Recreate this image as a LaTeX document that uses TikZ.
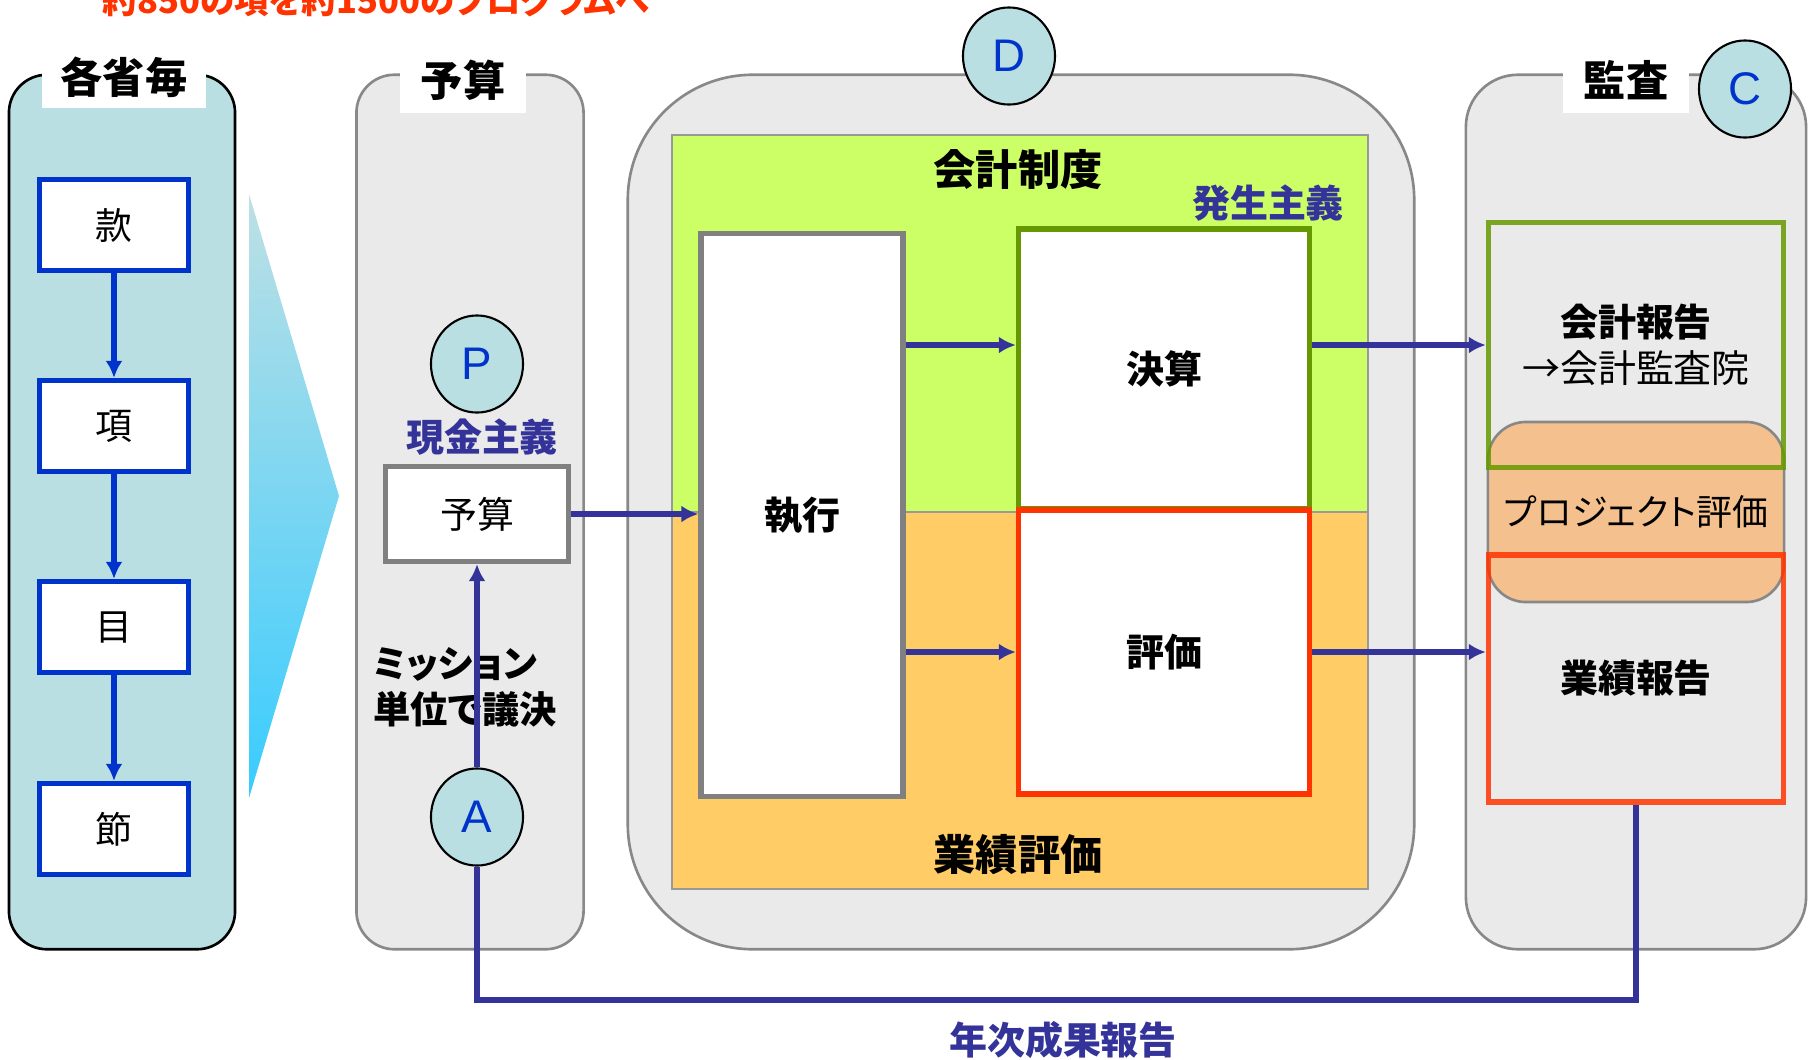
\documentclass[tikz,border=0pt]{standalone}
\usepackage{fontspec}
\setmainfont{Noto Sans CJK JP}
\newfontfamily\kanafont[RawFeature=+palt]{Noto Sans CJK JP}
\newfontfamily\lettfont{Liberation Sans}
\usepackage{xcolor}
\definecolor{panelblue}{RGB}{185,223,226}
\definecolor{panelgray}{RGB}{234,234,234}
\definecolor{edgegray}{RGB}{136,136,136}
\definecolor{boxgray}{RGB}{128,128,128}
\definecolor{itemblue}{RGB}{0,51,204}
\definecolor{flowindigo}{RGB}{51,51,153}
\definecolor{accrualgreen}{RGB}{204,255,102}
\definecolor{perforange}{RGB}{255,204,102}
\definecolor{greenedge}{RGB}{102,153,0}
\definecolor{rededge}{RGB}{255,51,0}
\definecolor{peach}{RGB}{244,193,142}
\definecolor{fadetop}{RGB}{190,224,228}
\definecolor{fadebottom}{RGB}{56,204,255}
\usepackage{tikz}
\usetikzlibrary{arrows.meta,shapes.geometric,positioning}
\tikzset{
	>={Latex[length=4.8pt,width=4.8pt]},
	panel/.style = {
			draw            = edgegray,
			fill            = panelgray,
			line width      = 0.75pt,
			rounded corners = 0.38cm,
			minimum height  = 8.74cm,
		},
	headbox/.style = {
			fill           = white,
			inner sep      = 0pt,
			minimum height = 0.66cm,
			font           = \bfseries\fontsize{12}{14}\selectfont,
		},
	itembox/.style = {
			draw           = itemblue,
			fill           = white,
			line width     = 1.5pt,
			minimum width  = 1.49cm,
			minimum height = 0.91cm,
			font           = \fontsize{10.5}{12}\selectfont,
		},
	letterball/.style = {
			ellipse,
			draw           = black,
			fill           = panelblue,
			line width     = 0.6pt,
			inner sep      = 0pt,
			minimum width  = 0.92cm,
			minimum height = 0.97cm,
			text           = itemblue,
			font           = \lettfont\fontsize{13}{13}\selectfont,
		},
	region/.style = {draw=gray!80, line width=0.5pt, minimum width=6.96cm, minimum height=3.77cm},
	whitebox/.style = {fill=white, line width=1.5pt},
	reportbox/.style = {line width=1.5pt, minimum width=2.95cm, draw opacity=0.85},
	itemflow/.style = {draw=itemblue, line width=1.5pt, ->},
	flow/.style = {draw=flowindigo, line width=1.7pt},
	bold12/.style = {font=\bfseries\fontsize{12}{14}\selectfont},
	bold11/.style = {font=\bfseries\fontsize{10.8}{13}\selectfont},
	basis/.style = {text=flowindigo, font=\bfseries\fontsize{10.8}{13}\selectfont},
}

\begin{document}
\begin{tikzpicture}[x=0.01cm, y=-0.01cm]
	\useasboundingbox (0,0) rectangle (1814,1060);
	\node[text=rededge, font=\bfseries\kanafont\fontsize{9.8}{12}\selectfont] at (376,0) (heading) {約850の項を約1500のプログラムへ};

	% per ministry
	\node[panel, draw=black, fill=panelblue, minimum width=2.26cm] at (122,512) (kakusho) {};
	\node[headbox, minimum width=1.64cm, minimum height=0.62cm] at (124,77) (kakushot) {各省毎};
	\node[itembox] at (114,225) (kan) {款};
	\node[itembox] at (114,426) (kou) {項};
	\node[itembox] at (114,627) (moku) {目};
	\node[itembox] at (114,829) (setsu) {節};
	\draw[itemflow] (kan) -- (kou);
	\draw[itemflow] (kou) -- (moku);
	\draw[itemflow] (moku) -- (setsu);
	\shade[top color=fadetop, bottom color=fadebottom] (249,194) -- (339,496) -- (249,798) -- cycle;

	% budget
	\node[panel, minimum width=2.27cm] at (470,512) (yosan) {};
	\node[headbox, minimum width=1.26cm] at (463,80) (yosant) {予算};
	\node[letterball] at (477,364) (P) {P};
	\node[basis] at (482,437) (genkin) {現金主義};
	\node[whitebox, draw=boxgray, minimum width=1.83cm, minimum height=0.95cm, font=\fontsize{10.5}{12}\selectfont] at (477,514) (yosanbox) {予算};
	\node[anchor=west, align=left, inner sep=0pt, font=\bfseries\kanafont\fontsize{10.6}{13}\selectfont] at (373,687) (mission) {ミッション\\単位で議決};
	\node[letterball] at (477,817) (A) {A};

	% accounting system
	\node[panel, rounded corners=1.25cm, minimum width=7.86cm] at (1021,512) (seido) {};
	\node[region, fill=accrualgreen] at (1020,323.5) (accrual) {};
	\node[region, fill=perforange] at (1020,700.5) (perf) {};
	\node[bold12] at (1018,170) (seidot) {会計制度};
	\node[basis] at (1268,203) (hassei) {発生主義};
	\node[bold12] at (1018,855) (perft) {業績評価};
	\node[whitebox, draw=boxgray, minimum width=2.02cm, minimum height=5.62cm, bold11] at (802,515) (shikko) {執行};
	\node[whitebox, draw=greenedge, minimum width=2.91cm, minimum height=2.8cm, bold11] at (1164,369) (kessan) {決算};
	\node[whitebox, draw=rededge, minimum width=2.91cm, minimum height=2.84cm, bold11] at (1164,652) (hyoka) {評価};
	\node[letterball] at (1009,56) (D) {D};

	% audit
	\node[panel, rounded corners=0.52cm, minimum width=3.4cm] at (1636,512) (kansa) {};
	\node[headbox, minimum width=1.26cm] at (1626,80) (kansat) {監査};
	\node[draw=edgegray, fill=peach, line width=0.75pt, rounded corners=0.38cm, minimum width=2.96cm, minimum height=1.8cm, font=\kanafont\fontsize{10.2}{12}\selectfont] at (1636,512) (project) {プロジェクト評価};
	\node[reportbox, draw=greenedge, minimum height=2.45cm, align=center, font=\fontsize{10.8}{13.2}\selectfont] at (1636,345) (kaikeirep) {\textbf{会計報告}\\→会計監査院};
	\node[reportbox, draw=rededge, minimum height=2.47cm, bold11] at (1636,678.5) (gyosekirep) {業績報告};
	\node[letterball] at (1745,89) (C) {C};

	% flows
	\draw[flow,->] (yosanbox.east) -- (yosanbox.east -| shikko.west);
	\draw[flow,->] (shikko.east |- kaikeirep.west) -- (kessan.west |- kaikeirep.west);
	\draw[flow,->] (shikko.east |- hyoka.west) -- (hyoka.west);
	\draw[flow,->] (kessan.east |- kaikeirep.west) -- (kaikeirep.west);
	\draw[flow,->] (hyoka.east) -- (hyoka.east -| gyosekirep.west);
	\coordinate (turn) at (1636,1000);
	\draw[flow] (gyosekirep.south) -- (turn) -| (A.south);
	\draw[flow,->] (A.north) -- (yosanbox.south);
	\node[basis] at (1063,1040) (annual) {年次成果報告};
\end{tikzpicture}
\end{document}
